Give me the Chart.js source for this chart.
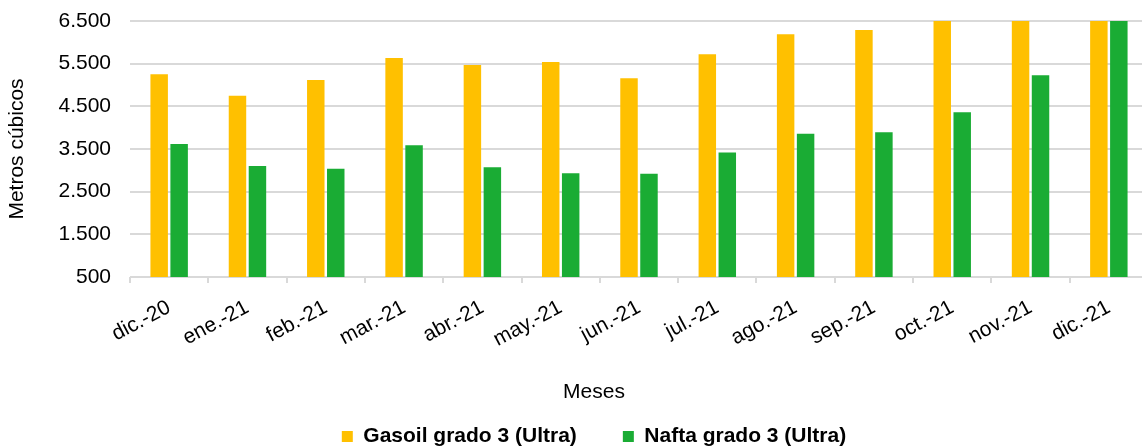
<!DOCTYPE html>
<html lang="es">
<head>
<meta charset="utf-8">
<title>Combustibles - metros cúbicos por mes</title>
<script src="https://cdn.jsdelivr.net/npm/chart.js@4/dist/chart.umd.min.js"></script>
<style>
    html, body { margin: 0; padding: 0; background: #fff; overflow: hidden; }
    #grafico { display: block; }
</style>
</head>
<body>
<canvas id="grafico" width="1148" height="448"></canvas>
<script>
// Datos (metros cúbicos)
const meses = ['dic.-20', 'ene.-21', 'feb.-21', 'mar.-21', 'abr.-21', 'may.-21', 'jun.-21',
               'jul.-21', 'ago.-21', 'sep.-21', 'oct.-21', 'nov.-21', 'dic.-21'];
const gasoil = [5250, 4750, 5120, 5630, 5470, 5540, 5160, 5720, 6190, 6290, 6800, 7000, 7300];
const nafta  = [3620, 3100, 3040, 3590, 3070, 2930, 2920, 3420, 3860, 3890, 4360, 5230, 6900];
const ticksY = [500, 1500, 2500, 3500, 4500, 5500, 6500];

const FUENTE = "'Liberation Sans', Arial, Helvetica, sans-serif";
const COLOR_TEXTO = '#000';
const COLOR_GRILLA = '#d9d9d9';
const COLOR_GASOIL = '#FFC000';
const COLOR_NAFTA = '#1AAC34';

// Separador de miles con punto (6500 -> 6.500)
function formatoMiles(valor) {
    return String(valor).replace(/\B(?=(\d{3})+(?!\d))/g, '.');
}

const fuente = { family: FUENTE, size: 21 };

new Chart(document.getElementById('grafico'), {
    type: 'bar',
    data: {
        labels: meses,
        datasets: [
            { label: 'Gasoil grado 3 (Ultra)', data: gasoil, backgroundColor: COLOR_GASOIL },
            { label: 'Nafta grado 3 (Ultra)', data: nafta, backgroundColor: COLOR_NAFTA }
        ]
    },
    options: {
        responsive: false,
        animation: false,
        datasets: {
            bar: { categoryPercentage: 0.51, barPercentage: 0.875 }
        },
        layout: {
            padding: { top: 21, left: 40, right: 0, bottom: -9 }
        },
        scales: {
            x: {
                border: { display: false },
                grid: { drawOnChartArea: false, color: COLOR_GRILLA, lineWidth: 2, tickLength: 6 },
                ticks: {
                    font: fuente,
                    color: COLOR_TEXTO,
                    minRotation: 28,
                    maxRotation: 28,
                    autoSkip: false,
                    padding: 12
                },
                afterFit: (escala) => { escala.height = 101; }
            },
            y: {
                min: 500,
                max: 6500,
                border: { display: false },
                grid: { color: COLOR_GRILLA, lineWidth: 2, drawTicks: false },
                afterBuildTicks: (escala) => {
                    escala.ticks = ticksY.map(v => ({ value: v }));
                },
                ticks: {
                    font: fuente,
                    color: COLOR_TEXTO,
                    padding: 19,
                    callback: (v) => formatoMiles(v)
                },
                title: {
                    display: true,
                    text: 'Metros cúbicos',
                    font: fuente,
                    color: COLOR_TEXTO,
                    padding: { top: -35.6, bottom: 0 }
                },
                afterFit: (escala) => {
                    escala.width = 90;
                    // el padding de las etiquetas no debe empujar el área del gráfico
                    escala.paddingTop = 0;
                    escala.paddingBottom = 0;
                }
            }
        },
        plugins: {
            legend: {
                position: 'bottom',
                labels: {
                    boxWidth: 11,
                    boxHeight: 11,
                    padding: 46,
                    color: COLOR_TEXTO,
                    font: { family: FUENTE, size: 21, weight: 'bold' }
                },
                title: {
                    display: true,
                    text: 'Meses',
                    color: COLOR_TEXTO,
                    font: fuente,
                    padding: { top: 4, bottom: -27.2 }
                }
            },
            tooltip: { enabled: false }
        }
    }
});
</script>
</body>
</html>
